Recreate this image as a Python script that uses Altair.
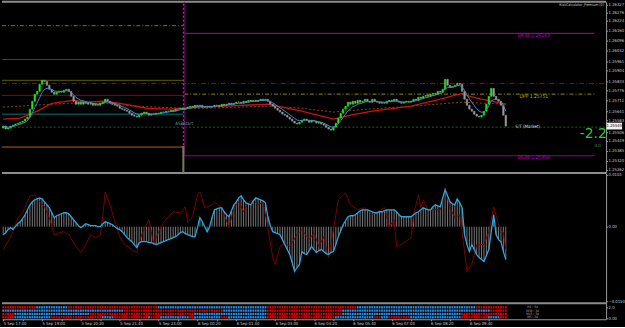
import json
import altair as alt
import pandas as pd

# ---------------- data ----------------
closes = [
    1.25545, 1.25526, 1.25532, 1.25545, 1.25551, 1.25558, 1.25564, 1.25570, 1.25577, 1.25590,
    1.25603, 1.25654, 1.25705, 1.25750, 1.25769, 1.25814, 1.25840, 1.25833, 1.25808, 1.25782,
    1.25763, 1.25750, 1.25763, 1.25769, 1.25763, 1.25776, 1.25782, 1.25769, 1.25737, 1.25705,
    1.25686, 1.25699, 1.25686, 1.25699, 1.25692, 1.25686, 1.25692, 1.25679, 1.25686, 1.25679,
    1.25692, 1.25699, 1.25718, 1.25705, 1.25692, 1.25686, 1.25679, 1.25673, 1.25660, 1.25654,
    1.25647, 1.25641, 1.25628, 1.25615, 1.25609, 1.25603, 1.25615, 1.25628, 1.25635, 1.25628,
    1.25615, 1.25622, 1.25622, 1.25628, 1.25628, 1.25635, 1.25635, 1.25641, 1.25641, 1.25647,
    1.25641, 1.25654, 1.25654, 1.25660, 1.25654, 1.25660, 1.25667, 1.25673, 1.25667, 1.25679,
    1.25673, 1.25679, 1.25667, 1.25667, 1.25673, 1.25667, 1.25673, 1.25679, 1.25679, 1.25673,
    1.25686, 1.25679, 1.25686, 1.25692, 1.25686, 1.25692, 1.25699, 1.25699, 1.25692, 1.25705,
    1.25699, 1.25711, 1.25705, 1.25711, 1.25705, 1.25711, 1.25718, 1.25711, 1.25718, 1.25705,
    1.25686, 1.25673, 1.25660, 1.25647, 1.25635, 1.25622, 1.25615, 1.25603, 1.25590, 1.25577,
    1.25564, 1.25558, 1.25570, 1.25583, 1.25590, 1.25583, 1.25570, 1.25583, 1.25577, 1.25564,
    1.25570, 1.25558, 1.25551, 1.25538, 1.25526, 1.25519, 1.25538, 1.25564, 1.25596, 1.25628,
    1.25654, 1.25673, 1.25699, 1.25686, 1.25705, 1.25692, 1.25711, 1.25699, 1.25705, 1.25718,
    1.25705, 1.25699, 1.25718, 1.25705, 1.25699, 1.25692, 1.25699, 1.25692, 1.25705, 1.25711,
    1.25705, 1.25718, 1.25705, 1.25699, 1.25692, 1.25699, 1.25705, 1.25699, 1.25705, 1.25718,
    1.25711, 1.25731, 1.25724, 1.25737, 1.25743, 1.25737, 1.25750, 1.25756, 1.25750, 1.25769,
    1.25763, 1.25782, 1.25846, 1.25808, 1.25795, 1.25801, 1.25808, 1.25820, 1.25814, 1.25769,
    1.25718, 1.25679, 1.25654, 1.25641, 1.25622, 1.25609, 1.25603, 1.25615, 1.25641, 1.25686,
    1.25737, 1.25788, 1.25737, 1.25718, 1.25705, 1.25679, 1.25615, 1.25545,
]
first_open = 1.25532

red_ma_bars = [0, 7, 14, 20, 29, 34, 42, 50, 59, 68, 82, 109, 123, 136, 143, 152, 168, 180, 189, 192, 197, 207]
red_ma_vals = [1.25590, 1.25596, 1.25641, 1.25692, 1.25711, 1.25699, 1.25705, 1.25686, 1.25660, 1.25654,
               1.25667, 1.25686, 1.25641, 1.25590, 1.25615, 1.25641, 1.25673, 1.25718, 1.25756, 1.25737,
               1.25718, 1.25686]
orange_ma_bars = [0, 27, 41, 55, 74, 82, 109, 123, 136, 150, 168, 189, 207]
orange_ma_vals = [1.25667, 1.25692, 1.25692, 1.25673, 1.25660, 1.25660, 1.25673, 1.25660, 1.25635,
                  1.25654, 1.25673, 1.25699, 1.25686]

# oscillator (units of 1e-4)
osc_main = [
    -16, -12, -6, -2, -6, 0, 6, 10, 16, 24,
    34, 44, 50, 54, 56, 58, 56, 50, 44, 38,
    28, 18, 22, 24, 26, 28, 28, 26, 20, 14,
    8, 2, -2, 2, 6, 4, 2, 2, 2, 0,
    0, 6, 10, 8, 6, 4, 0, -4, -6, -10,
    -16, -22, -26, -30, -36, -42, -32, -30, -30, -30,
    -32, -32, -34, -36, -34, -32, -30, -28, -26, -24,
    -22, -20, -16, -12, -10, -14, -16, -18, -20, -20,
    -2, 18, 10, 0, -10, 0, 18, 34, 36, 38,
    38, 30, 24, 20, 32, 44, 50, 58, 62, 54,
    48, 46, 44, 52, 58, 56, 54, 52, 48, 20,
    2, -10, -12, -14, -16, -26, -36, -46, -56, -72,
    -90, -82, -76, -50, -54, -56, -48, -40, -46, -52,
    -48, -46, -50, -54, -56, -52, -50, -36, -20, -8,
    4, 12, 20, 22, 22, 24, 28, 32, 34, 34,
    34, 32, 30, 28, 28, 30, 30, 32, 34, 34,
    34, 34, 30, 24, 20, 20, 20, 20, 20, 24,
    28, 30, 34, 38, 36, 34, 34, 40, 44, 42,
    40, 58, 74, 62, 50, 46, 44, 56, 48, 38,
    -16, -36, -50, -36, -46, -56, -62, -66, -70, -58,
    -46, -10, 24, -16, -26, -30, -50, -66,
]
osc_signal_bars = [0, 2, 4, 6, 8, 10, 11, 13, 15, 17, 19, 21, 23, 25, 27, 30, 32, 34, 36, 38,
                   40, 41, 42, 44, 46, 48, 50, 53, 55, 57, 59, 60, 62, 64, 66, 68, 70, 73, 75, 76,
                   78, 80, 81, 83, 84, 86, 87, 90, 93, 95, 97, 99, 101, 103, 105, 107, 109, 111, 112, 114,
                   116, 118, 121, 123, 126, 128, 130, 132, 134, 136, 138, 141, 143, 146, 149, 152, 154, 157, 159, 161,
                   162, 164, 168, 169, 171, 172, 173, 175, 177, 180, 182, 184, 186, 188, 189, 191, 193, 195, 198, 200,
                   202, 204, 206, 207]
osc_signal = [-46, -30, -10, 18, 28, 50, 62, 64, 50, 40, 18, -16, -12, -10, -16, -40, -52, -36, -16, -22,
              -16, 20, 70, 44, 10, -20, -36, -46, -52, -16, 4, 14, -36, -10, 8, 20, 30, 28, 40, 8,
              20, 64, 70, 38, 40, 44, 50, 38, -2, 38, 50, 30, 50, 54, 44, 50, -2, -62, -76, -40,
              -32, -40, -16, -6, -26, -12, -40, -20, -62, -6, 54, 68, 44, 34, 38, 24, 30, 38, 0, 14,
              -40, -36, -22, 24, 64, 38, 54, 34, 34, 34, 78, 38, 18, 24, -10, -90, -76, -36, -36, -10,
              40, 4, -12, -46]

# status rows: run end bars, colours alternate starting with given colour
status_ends = [
    [14, 27, 64, 109, 146, 195, 208],
    [50, 91, 109, 140, 201, 208],
    [5, 36, 79, 109, 140, 189, 208],
    [5, 20, 41, 46, 60, 61, 65, 77, 79, 90, 93, 109, 137, 153, 156, 159, 168, 189, 200, 205, 208],
]
status_first = ["R", "B", "R", "R"]
status_text = ["H1 : 34", "M30 : 34", "M15 : 34", "M5 : 34"]

left_levels = [1.25974, 1.25840, 1.25743, 1.25622, 1.25410]
left_level_cols = ["#9a009a", "#5e5e00", "#a00000", "#007a7a", "#b06800"]
left_dotted_level = 1.26192
pivot_names = ["DR38", "DPP", "DS38"]
pivot_vals = [1.26143, 1.25751, 1.25354]
red_dashdot_level = 1.25820
bid_level = 1.25538
last_price = 1.25545

price_ticks = [1.26327, 1.26276, 1.26224, 1.26160, 1.26096, 1.26032, 1.25961, 1.25904, 1.25833,
               1.25776, 1.25711, 1.25641, 1.25583, 1.25506, 1.25449, 1.25385, 1.25320, 1.25262]
osc_ticks = [0.0104, 0.0, -0.0150]
time_labels = ["5 Sep 17:40", "5 Sep 18:20", "5 Sep 19:00", "5 Sep 19:40", "5 Sep 20:20", "5 Sep 21:00",
               "5 Sep 21:40", "5 Sep 22:20", "5 Sep 23:00", "5 Sep 23:40", "6 Sep 00:20", "6 Sep 01:00",
               "6 Sep 01:40", "6 Sep 02:20", "6 Sep 03:00", "6 Sep 03:40", "6 Sep 04:20", "6 Sep 05:00",
               "6 Sep 05:40", "6 Sep 06:20", "6 Sep 07:00", "6 Sep 07:40", "6 Sep 08:20", "6 Sep 09:00",
               "6 Sep 09:40", "6 Sep 10:20"]

# ---------------- tables ----------------
n = len(closes)
opens = [first_open] + closes[:-1]
cdf = pd.DataFrame({"bar": list(range(n)), "open": opens, "close": closes})
cdf["x0"] = cdf["bar"] - 0.3
cdf["x1"] = cdf["bar"] + 0.3
cdf["col"] = ["#1ee81e" if c > o else "#9a9a9a" for o, c in zip(opens, closes)]
cdf["ema"] = pd.Series(closes).ewm(span=6, adjust=False).mean()

red_df = pd.DataFrame({"bar": red_ma_bars, "v": red_ma_vals})
org_df = pd.DataFrame({"bar": orange_ma_bars, "v": orange_ma_vals})

VSEP = 74.2      # session separator (bar units)
XEND = 248.3
PIV_END = 243.5

W = 607
FONT = "DejaVu Sans Condensed"
GREY = "#9a9a9a"
AX = dict(title=None, labelFontSize=4.2, labelColor="#c8c8c8", tickSize=1.5, tickColor=GREY,
          domainColor=GREY, labelPadding=0.5, grid=False, labelFont=FONT)

xsc = alt.Scale(domain=[-0.5, XEND], nice=False, zero=False)
ysc = alt.Scale(domain=[1.25243, 1.26346], nice=False, zero=False)
yax = alt.Axis(orient="right", values=price_ticks, format=".5f", **AX)


def X(f):
    return alt.X(f, type="quantitative", scale=xsc, axis=None)


def Y(f):
    return alt.Y(f, type="quantitative", scale=ysc, axis=yax)


base = alt.Chart(cdf)

# level segments
lvl_df = pd.DataFrame({"x0": -0.5, "x1": VSEP, "y": left_levels, "col": left_level_cols})
lvl = alt.Chart(lvl_df).mark_rule(strokeWidth=1).encode(
    x=X("x0"), x2=alt.X2("x1"), y=Y("y"), color=alt.Color("col:N", scale=None))
lvl_dot = alt.Chart(pd.DataFrame({"x0": [-0.5], "x1": [VSEP], "y": [left_dotted_level]})).mark_rule(
    strokeWidth=1, color="#7c7c00", strokeDash=[4, 2, 1, 2]).encode(x=X("x0"), x2=alt.X2("x1"), y=Y("y"))

piv_df = pd.DataFrame({"x0": VSEP + 0.4, "x1": PIV_END, "y": pivot_vals, "name": pivot_names,
                       "col": ["#8c008c", "#8c8c00", "#8c008c"]})
piv_solid = alt.Chart(piv_df[piv_df["name"] != "DPP"]).mark_rule(strokeWidth=1.2).encode(
    x=X("x0"), x2=alt.X2("x1"), y=Y("y"), color=alt.Color("col:N", scale=None))
piv_dpp = alt.Chart(piv_df[piv_df["name"] == "DPP"]).mark_rule(
    strokeWidth=1, color="#8c8c00", strokeDash=[4, 2, 1, 2]).encode(x=X("x0"), x2=alt.X2("x1"), y=Y("y"))
piv_df["label"] = [f"{a}  {b:.5f}" for a, b in zip(pivot_names, pivot_vals)]
piv_txt = alt.Chart(piv_df).mark_text(fontSize=5, font=FONT, dy=1.5).encode(
    x=alt.X("lx:Q", scale=xsc, axis=None), y=Y("y"), text="label:N",
    color=alt.Color("tc:N", scale=None)).transform_calculate(
    lx="218.5", tc="datum.name == 'DPP' ? '#b0b000' : '#c000c0'")

full_df = pd.DataFrame({"x0": [-0.5], "x1": [XEND], "y": [red_dashdot_level]})
red_dd = alt.Chart(full_df).mark_rule(strokeWidth=1, color="#b00000", strokeDash=[5, 2, 1, 2]).encode(
    x=X("x0"), x2=alt.X2("x1"), y=Y("y"))
bid_df = pd.DataFrame({"x0": [-0.5], "x1": [XEND], "y": [bid_level]})
bid = alt.Chart(bid_df).mark_rule(strokeWidth=1, color="#0a6a0a", strokeDash=[2, 2]).encode(
    x=X("x0"), x2=alt.X2("x1"), y=Y("y"))

vdf = pd.DataFrame({"x": [VSEP], "y0": [1.25243], "y1": [1.26346]})
vline = alt.Chart(vdf).mark_rule(strokeWidth=1, color="#8a7a20", strokeDash=[2, 2]).encode(
    x=X("x"), y=Y("y0"), y2=alt.Y2("y1"))
vdf2 = pd.DataFrame({"x": [VSEP + 0.45], "y0": [pivot_vals[2]], "y1": [1.26346]})
vline2 = alt.Chart(vdf2).mark_rule(strokeWidth=0.8, color="#7a007a").encode(
    x=X("x"), y=Y("y0"), y2=alt.Y2("y1"))
vdf3 = pd.DataFrame({"x": [VSEP], "y0": [1.25243], "y1": [1.25417]})
vline3 = alt.Chart(vdf3).mark_rule(strokeWidth=2, color="#7a7a60").encode(
    x=X("x"), y=Y("y0"), y2=alt.Y2("y1"))

candles = base.mark_rect(strokeWidth=0.6).encode(
    x=X("x0"), x2=alt.X2("x1"), y=Y("open"), y2=alt.Y2("close"),
    color=alt.Color("col:N", scale=None), stroke=alt.Stroke("col:N", scale=None))

ema_line = base.mark_line(color="#4a86c8", strokeWidth=1).encode(x=X("bar"), y=Y("ema"))
red_line = alt.Chart(red_df).mark_line(color="#d01010", strokeWidth=1.3).encode(x=X("bar"), y=Y("v"))
org_line = alt.Chart(org_df).mark_line(color="#8a4a10", strokeWidth=1, strokeDash=[2, 2]).encode(
    x=X("bar"), y=Y("v"))

# frame rules
frame_df = pd.DataFrame({"x0": [-0.5, -0.5], "x1": [XEND, XEND], "y": [1.26346, 1.25243]})
frame = alt.Chart(frame_df).mark_rule(strokeWidth=2, color="#8c8c8c").encode(
    x=X("x0"), x2=alt.X2("x1"), y=Y("y"))

# texts
txt_df = pd.DataFrame({
    "x": [216.0, 74.5],
    "y": [bid_level, 1.25558],
    "t": ["S/T (Market)", "ASBStart"],
    "c": ["#d8d8d8", "#7f8fa0"],
})
txts = alt.Chart(txt_df).mark_text(fontSize=4.5, font=FONT).encode(
    x=X("x"), y=Y("y"), text="t:N", color=alt.Color("c:N", scale=None))
rc_txt = alt.Chart(pd.DataFrame({"x": [247.4], "y": [1.26325], "t": ["RiskCalculator_Premium (0)"]})).mark_text(
    fontSize=3.6, font=FONT, color="#c8c8c8", align="right").encode(x=X("x"), y=Y("y"), text="t:N")
big = alt.Chart(pd.DataFrame({"x": [243.0], "y": [1.25496], "t": ["-2.2"]})).mark_text(
    fontSize=14, font="DejaVu Sans", color="#3cc23c").encode(x=X("x"), y=Y("y"), text="t:N")
small = alt.Chart(pd.DataFrame({"x": [244.8], "y": [1.25418], "t": ["0.0"]})).mark_text(
    fontSize=4.5, font=FONT, color="#2ea02e").encode(x=X("x"), y=Y("y"), text="t:N")

box = alt.Chart(pd.DataFrame({"x0": [248.5], "x1": [254.9], "y0": [last_price - 0.00022],
                              "y1": [last_price + 0.00022]})).mark_rect(color="#f0f0f0").encode(
    x=X("x0"), x2=alt.X2("x1"), y=Y("y0"), y2=alt.Y2("y1"))
box_t = alt.Chart(pd.DataFrame({"x": [251.7], "y": [last_price], "t": [f"{last_price:.5f}"]})).mark_text(
    fontSize=4.2, font=FONT, color="black").encode(x=X("x"), y=Y("y"), text="t:N")

main = alt.layer(frame, lvl, lvl_dot, red_dd, bid, piv_solid, piv_dpp, vline, vline2, vline3,
                 org_line, red_line, candles, ema_line, piv_txt, txts, rc_txt, big, small, box, box_t).properties(
    width=W, height=172)

# ---------------- oscillator ----------------
odf = pd.DataFrame({"bar": list(range(len(osc_main))), "v": [v / 10000 for v in osc_main]})
odf["zero"] = 0.0
sdf = pd.DataFrame({"bar": osc_signal_bars, "v": [v / 10000 for v in osc_signal]})
ysc2 = alt.Scale(domain=[-0.0152, 0.0108], nice=False, zero=False)
yax2 = alt.Axis(orient="right", values=osc_ticks,
                labelExpr="datum.value == 0 ? '0.00' : format(datum.value, '.4f')", **AX)


def Y2(f):
    return alt.Y(f, type="quantitative", scale=ysc2, axis=yax2)


hist = alt.Chart(odf).mark_rule(strokeWidth=0.7, color="#a8a8a8").encode(
    x=X("bar"), y=Y2("zero"), y2=alt.Y2("v"))
sig = alt.Chart(sdf).mark_line(strokeWidth=1, color="#7a0000").encode(x=X("bar"), y=Y2("v"))
cyan = alt.Chart(odf).mark_line(strokeWidth=1.3, color="#2aa6e0").encode(x=X("bar"), y=Y2("v"))
osc = alt.layer(hist, sig, cyan).properties(width=W, height=130)

# ---------------- status rows ----------------
cells = []
for r, (ends, first) in enumerate(zip(status_ends, status_first), start=1):
    start = 0
    cur = first
    for e in ends:
        for b in range(start, e):
            cells.append({"bar": b, "row": r, "col": "#e00000" if cur == "R" else "#2a8ee8"})
        start = e
        cur = "B" if cur == "R" else "R"
cell_df = pd.DataFrame(cells)
cell_df["x0"] = cell_df["bar"] - 0.38
cell_df["x1"] = cell_df["bar"] + 0.38
cell_df["y0"] = cell_df["row"] - 0.34
cell_df["y1"] = cell_df["row"] + 0.34

ysc3 = alt.Scale(domain=[-0.5, 4.6], reverse=True, nice=False, zero=False)
yax3 = alt.Axis(orient="right", values=[1, 4.3],
                labelExpr="datum.value == 1 ? '2.0' : '0.00'", **AX)
xax3 = alt.Axis(orient="bottom", values=list(range(0, 208, 8)), labelAlign="left",
                labelExpr=json.dumps(time_labels) + "[round(datum.value / 8)]", **AX)


def X3(f):
    return alt.X(f, type="quantitative", scale=xsc, axis=xax3)


def Y3(f):
    return alt.Y(f, type="quantitative", scale=ysc3, axis=yax3)


cells_ch = alt.Chart(cell_df).mark_rect().encode(
    x=X3("x0"), x2=alt.X2("x1"), y=Y3("y0"), y2=alt.Y2("y1"), color=alt.Color("col:N", scale=None))
sep = alt.Chart(pd.DataFrame({"x0": [-0.5], "x1": [XEND], "y": [-0.25]})).mark_rule(
    strokeWidth=2, color="#8c8c8c").encode(x=X3("x0"), x2=alt.X2("x1"), y=Y3("y"))
st_txt = alt.Chart(pd.DataFrame({"x": [218.0] * 4, "row": [1, 2, 3, 4], "t": status_text})).mark_text(
    fontSize=3.2, font=FONT, color="#b8b8b8").encode(x=X3("x"), y=Y3("row"), text="t:N")
status = alt.layer(sep, cells_ch, st_txt).properties(width=W, height=17)

chart = alt.vconcat(main, osc, status, spacing=0, bounds="flush").properties(
    background="black", padding=0).configure_view(stroke=None)

chart.save("out.html", embed_options={"renderer": "svg", "actions": False})
